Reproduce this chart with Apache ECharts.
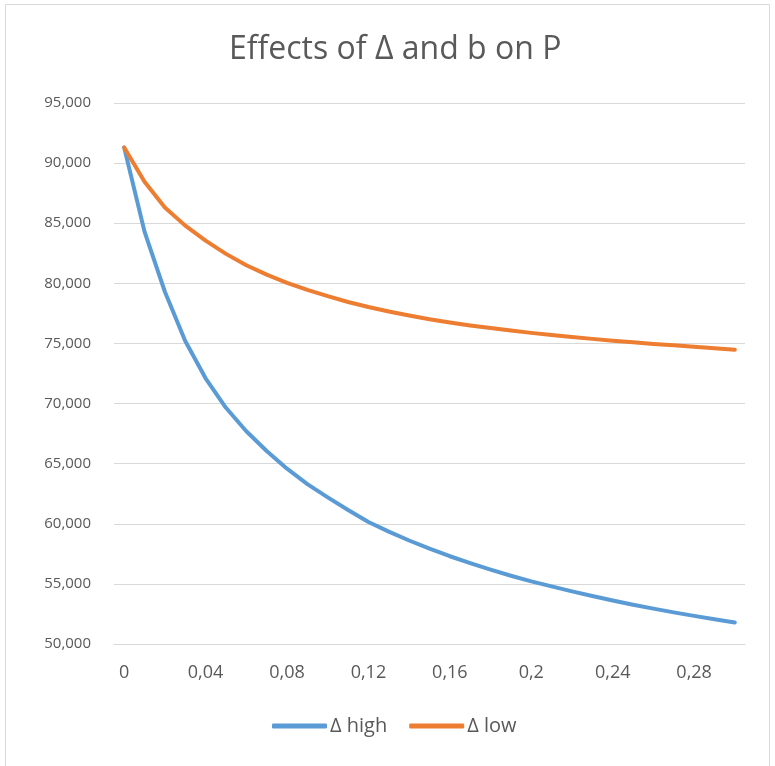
<!DOCTYPE html>
<html>
<head>
<meta charset="utf-8">
<script src="https://cdn.jsdelivr.net/npm/echarts@6/dist/echarts.min.js"></script>
<style>
  html, body { margin: 0; padding: 0; background: #ffffff; }
  #chart { width: 775px; height: 766px; }
</style>
</head>
<body>
<div id="chart"></div>
<script>
// b values along the horizontal axis (step 0.01)
const categories = ['0','0,01','0,02','0,03','0,04','0,05','0,06','0,07','0,08','0,09',
  '0,1','0,11','0,12','0,13','0,14','0,15','0,16','0,17','0,18','0,19',
  '0,2','0,21','0,22','0,23','0,24','0,25','0,26','0,27','0,28','0,29','0,3'];

// P for a high Δ
const deltaHigh = [91300, 84300, 79300, 75200, 72100, 69650, 67700, 66050, 64580, 63300,
  62200, 61150, 60150, 59350, 58610, 57930, 57300, 56720, 56180, 55680,
  55210, 54790, 54380, 53990, 53620, 53270, 52940, 52630, 52340, 52060, 51790];

// P for a low Δ
const deltaLow = [91300, 88450, 86300, 84800, 83550, 82450, 81500, 80720, 80040, 79450,
  78930, 78450, 78030, 77660, 77320, 77010, 76740, 76500, 76280, 76070,
  75880, 75700, 75530, 75380, 75230, 75090, 74960, 74840, 74720, 74610, 74480];

const yMin = 50000, yMax = 95000, yStep = 5000;

const textColor = '#595959';
const fontFamily = '"Open Sans", "Liberation Sans", sans-serif';

const chart = echarts.init(document.getElementById('chart'), null, { renderer: 'canvas' });

chart.setOption({
  backgroundColor: '#ffffff',
  animation: false,
  graphic: [{
    type: 'rect',
    shape: { x: 5.5, y: 4.5, width: 764, height: 800 },
    style: { fill: 'none', stroke: '#d9d9d9', lineWidth: 1 },
    silent: true
  }],
  title: {
    text: 'Effects of Δ and b on P',
    left: 224,
    top: 29,
    textStyle: { color: textColor, fontFamily: fontFamily, fontSize: 32, fontWeight: 'normal' }
  },
  grid: { left: 114, right: 30, top: 103, bottom: 122, containLabel: false },
  legend: {
    bottom: 25,
    left: 267,
    icon: 'roundRect',
    itemWidth: 55,
    itemHeight: 5,
    itemGap: 22,
    textStyle: { color: textColor, fontFamily: fontFamily, fontSize: 20, padding: [0, 0, 0, -2] },
    data: ['Δ high', 'Δ low']
  },
  xAxis: {
    type: 'category',
    data: categories,
    boundaryGap: true,
    axisLine: { show: true, lineStyle: { color: '#d9d9d9', width: 1 } },
    axisTick: { show: false },
    axisLabel: {
      interval: 3,
      color: textColor,
      fontFamily: fontFamily,
      fontSize: 18,
      margin: 20
    },
    splitLine: { show: false }
  },
  yAxis: {
    type: 'value',
    min: yMin,
    max: yMax,
    interval: yStep,
    axisLine: { show: false },
    axisTick: { show: false },
    axisLabel: {
      color: textColor,
      fontFamily: fontFamily,
      fontSize: 15,
      margin: 23,
      formatter: v => v.toLocaleString('en-US')
    },
    splitLine: { lineStyle: { color: '#d9d9d9', width: 1 } }
  },
  series: [
    {
      name: 'Δ high',
      type: 'line',
      data: deltaHigh,
      showSymbol: false,
      smooth: false,
      lineStyle: { color: '#5b9bd5', width: 4, cap: 'round', join: 'round' },
      itemStyle: { color: '#5b9bd5' }
    },
    {
      name: 'Δ low',
      type: 'line',
      data: deltaLow,
      showSymbol: false,
      smooth: false,
      lineStyle: { color: '#ed7d31', width: 4, cap: 'round', join: 'round' },
      itemStyle: { color: '#ed7d31' }
    }
  ]
});
</script>
</body>
</html>
